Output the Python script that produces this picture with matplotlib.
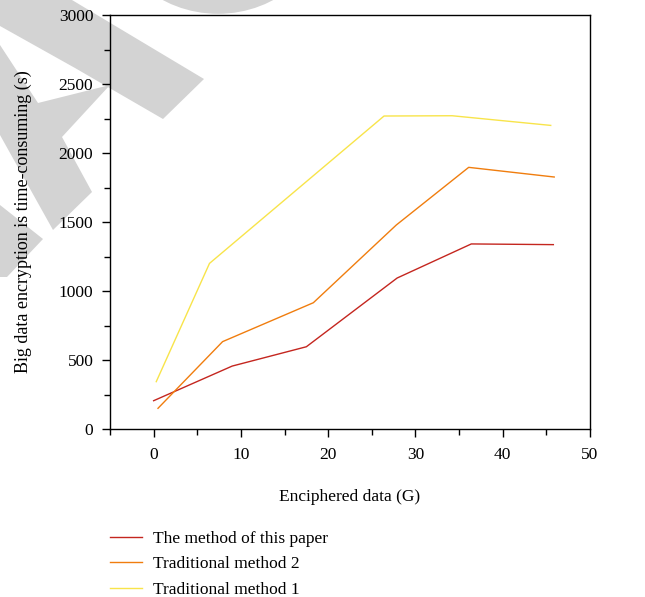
import numpy as np
import matplotlib.pyplot as plt
from matplotlib.patches import Polygon, Circle

plt.rcParams['font.family'] = ['Liberation Serif', 'DejaVu Serif']

# Data
x_paper = [0, 9.0, 17.5, 27.9, 36.4, 45.8]
y_paper = [205, 456, 596, 1094, 1341, 1336]
x_trad2 = [0.5, 7.9, 18.3, 27.8, 36.1, 45.9]
y_trad2 = [150, 633, 915, 1478, 1896, 1826]
x_trad1 = [0.3, 6.4, 26.4, 34.2, 45.5]
y_trad1 = [343, 1200, 2268, 2270, 2200]

labels = ['The method of this paper', 'Traditional method 2', 'Traditional method 1']
colors = ['#c4261f', '#f07d0e', '#f8e44a']

W, H = 645, 597
fig = plt.figure(figsize=(W / 100, H / 100), dpi=100)

# grey watermark shapes (pixel coords, origin top-left)
def px(pts):
    return [(x / W, 1 - y / H) for x, y in pts]

grey = '#d3d3d3'
wm = [
    [(0, 0), (72, 0), (204, 79), (163, 119), (75, 68), (0, 26)],
    [(0, 45), (38, 103), (110, 85), (62, 137), (92, 192), (53, 230), (0, 135)],
    [(0, 205), (43, 239), (7, 277), (0, 277)],
]
for pts in wm:
    fig.patches.append(Polygon(px(pts), closed=True, facecolor=grey,
                               edgecolor='none', transform=fig.transFigure, zorder=-1))
fig.patches.append(Circle((218 / W, 1 + 88 / H), 110 / W, facecolor=grey,
                          edgecolor='none', transform=fig.transFigure, zorder=-1))

ax = fig.add_axes([110 / W, 1 - 429 / H, 480 / W, 414 / H])
ax.patch.set_alpha(0)
ax.set_zorder(2)

ax.plot(x_paper, y_paper, color=colors[0], lw=1.0, label=labels[0])
ax.plot(x_trad2, y_trad2, color=colors[1], lw=1.0, label=labels[1])
ax.plot(x_trad1, y_trad1, color=colors[2], lw=1.0, label=labels[2])

ax.set_xlim(-5, 50)
ax.set_ylim(0, 3000)
ax.set_xticks([0, 10, 20, 30, 40, 50])
ax.set_xticks([-5, 5, 15, 25, 35, 45], minor=True)
ax.set_yticks([0, 500, 1000, 1500, 2000, 2500, 3000])
ax.set_yticks([250, 750, 1250, 1750, 2250, 2750], minor=True)
ax.tick_params(which='major', direction='out', length=6, width=1, labelsize=12.5, pad=6)
ax.tick_params(which='minor', direction='out', length=4.5, width=1)
ax.tick_params(axis='x', which='major', pad=7)
for s in ax.spines.values():
    s.set_linewidth(1)

ax.set_xlabel('Enciphered data (G)', fontsize=12.5, labelpad=19)
ax.set_ylabel('Big data encryption is time-consuming (s)', fontsize=13, labelpad=19)

leg = fig.legend(loc='upper left', bbox_to_anchor=(94 / W, 1 - 515 / H), frameon=False,
                 fontsize=12.5, handlelength=1.85, handletextpad=0.65, labelspacing=0.55)
leg.set_zorder(3)

fig.savefig('out.png', dpi=100)
